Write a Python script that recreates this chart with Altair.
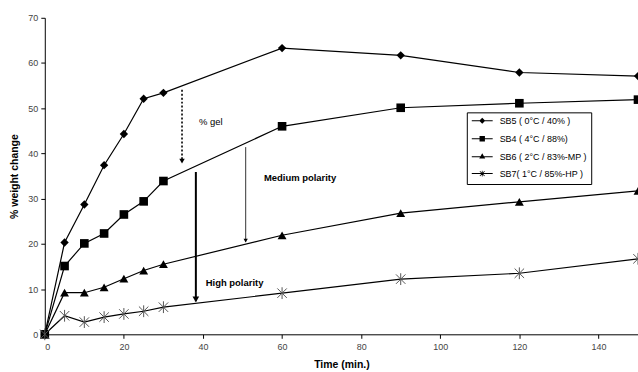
import altair as alt
import pandas as pd

# Sampling times (minutes)
time_min = [0, 5, 10, 15, 20, 25, 30, 60, 90, 120, 150]

# Series labels
series_names = [
    "SB5 ( 0°C / 40% )",
    "SB4 ( 4°C / 88%)",
    "SB6 ( 2°C / 83%-MP )",
    "SB7( 1°C / 85%-HP )",
]

# % weight change per series
sb5 = [0, 20.3, 28.7, 37.4, 44.3, 52.1, 53.4, 63.3, 61.7, 57.9, 57.1]
sb4 = [0, 15.1, 20.1, 22.3, 26.5, 29.4, 33.9, 46.0, 50.1, 51.1, 51.9]
sb6 = [0, 9.2, 9.2, 10.4, 12.3, 14.1, 15.5, 21.9, 26.8, 29.3, 31.7]
sb7 = [0, 4.1, 2.7, 3.8, 4.5, 5.1, 6.0, 9.1, 12.2, 13.5, 16.7]

# Annotation arrows (x, start value, end value)
arrow_x = [34.7, 38.2, 50.8]
arrow_from = [54.1, 35.9, 41.4]
arrow_to = [38.1, 7.3, 20.5]
arrow_kind = ["dotted", "thick", "thin"]

# Annotation labels
note_text = ["% gel", "Medium polarity", "High polarity"]
note_x = [39.0, 55.4, 40.7]
note_y = [46.9, 34.6, 11.4]
note_weight = ["normal", "bold", "bold"]

FONT = "Liberation Sans"

rows = []
for name, vals in zip(series_names, [sb5, sb4, sb6, sb7]):
    for t, v in zip(time_min, vals):
        rows.append({"time": t, "value": v, "series": name})
df = pd.DataFrame(rows)

arrows = pd.DataFrame({"x": arrow_x, "y1": arrow_from, "y2": arrow_to, "kind": arrow_kind})
notes = pd.DataFrame({"x": note_x, "y": note_y, "text": note_text, "weight": note_weight})

x_scale = alt.Scale(domain=[0, 150], nice=False, zero=False)
y_scale = alt.Scale(domain=[0, 70], nice=False)

x_enc = alt.X(
    "time:Q", scale=x_scale, title="Time (min.)",
    axis=alt.Axis(values=[0, 20, 40, 60, 80, 100, 120, 140]),
)
y_enc = alt.Y(
    "value:Q", scale=y_scale, title="% weight change",
    axis=alt.Axis(values=[0, 10, 20, 30, 40, 50, 60, 70]),
)

STAR = "M-1,-1L1,1M-1,1L1,-1M0,-1.25L0,1.25"

lines = alt.Chart(df).mark_line(color="black", strokeWidth=1.2).encode(
    x=x_enc, y=y_enc, detail="series:N", order="time:Q"
)

filled_pts = alt.Chart(df).transform_filter(
    alt.datum.series != series_names[3]
).mark_point(filled=True, color="black", opacity=1).encode(
    x="time:Q",
    y="value:Q",
    shape=alt.Shape(
        "series:N",
        scale=alt.Scale(domain=series_names[:3], range=["diamond", "square", "triangle-up"]),
        legend=None,
    ),
    size=alt.Size(
        "series:N",
        scale=alt.Scale(domain=series_names[:3], range=[70, 80, 85]),
        legend=None,
    ),
)

star_pts = alt.Chart(df).transform_filter(
    alt.datum.series == series_names[3]
).mark_point(shape=STAR, filled=False, color="#555555", strokeWidth=1, size=90, opacity=1).encode(
    x="time:Q", y="value:Q"
)

# Legend keys: a thin bar (the line) with the marker on top, all as filled outlines
KEY_LINE = "M-3.5,-0.17L3.5,-0.17L3.5,0.17L-3.5,0.17Z"
legend_paths = [
    KEY_LINE + "M0,-1L1,0L0,1L-1,0Z",
    KEY_LINE + "M-0.9,-0.9L0.9,-0.9L0.9,0.9L-0.9,0.9Z",
    KEY_LINE + "M0,-1.1L1,0.6L-1,0.6Z",
    KEY_LINE
    + "M-0.715,-0.885L0.885,0.715L0.715,0.885L-0.885,-0.715Z"
    + "M-0.715,0.885L-0.885,0.715L0.715,-0.885L0.885,-0.715Z"
    + "M-0.12,-0.95L0.12,-0.95L0.12,0.95L-0.12,0.95Z",
]
legend_layer = alt.Chart(df).transform_filter("false").mark_point(
    filled=True, color="black", opacity=1, size=36
).encode(
    x="time:Q",
    y="value:Q",
    shape=alt.Shape(
        "series:N",
        scale=alt.Scale(domain=series_names, range=legend_paths),
        legend=alt.Legend(
            title=None,
            orient="none",
            legendX=424,
            legendY=95,
            padding=4,
            strokeColor="black",
            fillColor="white",
            labelFont=FONT,
            labelFontSize=9,
            labelColor="black",
            symbolSize=36,
            symbolOffset=7,
            labelOffset=13,
            rowPadding=5,
            symbolFillColor="black",
        ),
    ),
)

arrow_base = alt.Chart(arrows)
dotted = arrow_base.transform_filter(alt.datum.kind == "dotted").mark_rule(
    color="black", strokeWidth=1.6, strokeDash=[2, 2]
).encode(x="x:Q", y="y1:Q", y2="y2:Q")
thick = arrow_base.transform_filter(alt.datum.kind == "thick").mark_rule(
    color="black", strokeWidth=2
).encode(x="x:Q", y="y1:Q", y2="y2:Q")
thin = arrow_base.transform_filter(alt.datum.kind == "thin").mark_rule(
    color="black", strokeWidth=0.8
).encode(x="x:Q", y="y1:Q", y2="y2:Q")

head_dotted = arrow_base.transform_filter(alt.datum.kind == "dotted").mark_point(
    shape="triangle-down", filled=True, color="black", size=30, opacity=1, yOffset=-1
).encode(x="x:Q", y="y2:Q")
head_thick = arrow_base.transform_filter(alt.datum.kind == "thick").mark_point(
    shape="triangle-down", filled=True, color="black", size=45, opacity=1, yOffset=-2
).encode(x="x:Q", y="y2:Q")
head_thin = arrow_base.transform_filter(alt.datum.kind == "thin").mark_point(
    shape="triangle-down", filled=True, color="black", size=18, opacity=1, yOffset=-1
).encode(x="x:Q", y="y2:Q")

labels_normal = alt.Chart(notes).transform_filter(alt.datum.weight == "normal").mark_text(
    align="left", baseline="middle", font=FONT, fontSize=9.5, color="black"
).encode(x="x:Q", y="y:Q", text="text:N")
labels_bold = alt.Chart(notes).transform_filter(alt.datum.weight == "bold").mark_text(
    align="left", baseline="middle", font=FONT, fontSize=9.5, fontWeight="bold", color="black"
).encode(x="x:Q", y="y:Q", text="text:N")

chart = alt.layer(
    lines, dotted, thick, thin, head_dotted, head_thick, head_thin,
    filled_pts, star_pts, labels_normal, labels_bold, legend_layer,
).resolve_scale(
    shape="independent", size="independent"
).properties(
    width=596,
    height=318,
    autosize=alt.AutoSizeParams(type="none"),
    padding={"left": 45, "top": 17, "right": 0, "bottom": 37},
    background="white",
).configure_view(
    stroke=None
).configure_axis(
    grid=False,
    domainColor="black",
    domainWidth=1,
    tickColor="black",
    tickSize=4,
    labelFont=FONT,
    labelFontSize=9,
    labelColor="#444444",
    titleFont=FONT,
    titleFontSize=10.5,
    titleFontWeight="bold",
    titleColor="black",
).configure_axisX(
    labelPadding=4,
    titlePadding=8,
).configure_axisY(
    labelPadding=3,
    titlePadding=8,
)

chart.save("out.html", embed_options={"renderer": "svg", "actions": False})
